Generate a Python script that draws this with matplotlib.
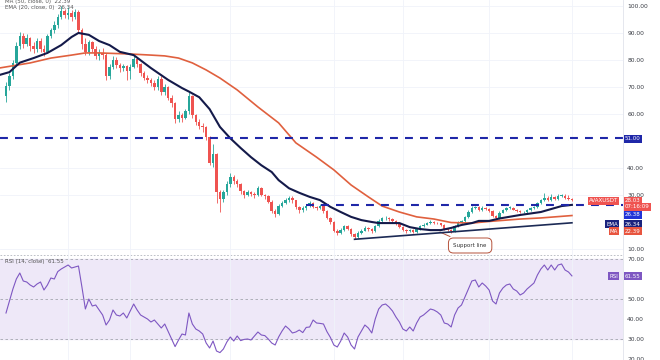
import matplotlib.pyplot as plt

plt.rcParams['font.family'] = ['DejaVu Sans']

# 日线 K 线数据
first_open = 66.5
closes = [70.5, 74, 79, 85, 89, 86, 88, 85, 84, 87, 84, 83, 89, 91, 93, 96, 98, 96.5, 97.5, 96,
          97.8, 91, 86, 83, 86.5, 84, 81.5, 82.5, 81.8, 74, 77.5, 80, 78, 77, 77.6, 76, 77.5, 80.5, 78.5, 75,
          73.5, 72.5, 71.5, 70, 73, 68, 70, 66, 64, 58, 59.5, 58.5, 61, 66.5, 59.5, 57, 55.5, 55, 51.5, 42,
          45, 31, 28.5, 31, 34, 36.7, 35, 34, 31.5, 30, 31, 30.5, 30, 32.5, 30, 29.5, 27.5, 24, 23, 26,
          27, 28, 29, 28, 25.5, 24.5, 25, 26, 27, 25.5, 25.2, 26, 24, 21.5, 20, 16.8, 16, 17, 18.5, 17.5,
          15.5, 14.5, 16, 16.8, 17.8, 17.3, 16.5, 18.5, 20.5, 21.3, 21.5, 21, 20.3, 19.2, 18.3, 17, 16.5, 17, 16.2, 17.5,
          18.5, 19, 19.5, 20, 19.8, 19.5, 19, 17.5, 17.2, 16.5, 18.5, 19.8, 20.3, 21.8, 23.7, 25.2, 25.5, 24.5, 25.3, 24.8,
          24, 22.3, 21.5, 23.5, 24.5, 25.2, 25.3, 24.6, 24.2, 23.6, 23.8, 24.4, 25, 25.6, 27, 28, 29, 28.3, 29.3, 28.5,
          29.6, 29.8, 29, 28.6, 28.03]
highs = [72, 75, 80, 86.5, 90.5, 90, 89.5, 88.5, 86.5, 88, 88, 85.5, 89.5, 92, 94.5, 97, 100, 99, 99.5, 98.5,
         99, 98.5, 92, 88, 87.5, 87, 85, 84, 84.5, 82.5, 78.5, 81.5, 81, 79, 78.5, 78, 78.5, 81.5, 81, 79,
         76, 74.5, 73.5, 72.5, 74, 74, 71, 70.5, 67, 64.5, 61, 60.5, 62, 68, 67, 60, 58, 56.5, 55.5, 52,
         49, 45.5, 32, 32, 35, 38, 37.5, 36, 34.5, 32, 32, 31.5, 31, 33.5, 33, 30.5, 30, 28, 24.8, 26.8,
         27.8, 29, 29.8, 29.5, 28.3, 26, 25.8, 26.6, 27.6, 27.3, 26, 26.5, 26.3, 24.3, 22, 20.3, 17.5, 17.6, 19, 18.9,
         17.8, 16, 16.5, 17.4, 18.5, 18.2, 17.7, 19, 21, 22, 22.3, 22, 21.5, 20.6, 19.5, 18.6, 17.4, 17.5, 17.3, 17.9,
         19, 19.5, 20, 20.6, 20.4, 20.1, 19.8, 19.3, 17.9, 17.5, 18.9, 20.2, 20.8, 22.3, 24.3, 25.8, 26.1, 25.9, 25.8, 25.6,
         25.1, 24.3, 22.6, 23.9, 24.9, 25.7, 25.8, 25.6, 24.9, 24.5, 24.2, 24.8, 25.4, 26, 27.5, 28.6, 30.7, 29.6, 30.2, 29.8,
         30.2, 30.5, 30.2, 30, 29]
lows = [64.5, 69, 73, 78, 84, 84.5, 85, 83.5, 82.5, 83, 83, 81.5, 82.5, 88, 90, 92, 95, 95.5, 95, 94.5,
        95, 90, 84, 82, 82, 83, 80.5, 80, 80.5, 72.5, 73, 76.5, 77, 75.5, 76, 72.5, 73, 77, 77.5, 74,
        72.5, 71.5, 70.5, 69, 69, 67, 67, 65, 62.5, 56.5, 57, 57, 58, 60, 58.5, 56, 54.5, 53.5, 50.5, 41,
        40.5, 27, 23.8, 27.5, 30, 33, 34, 33, 30.5, 29, 29.5, 29.5, 29, 29.5, 29.5, 28.5, 27, 23.5, 22, 22.5,
        25.5, 26.5, 27.5, 27.2, 24.8, 23.5, 23.8, 24.5, 25.5, 25, 24.6, 24.8, 23.5, 21, 19.3, 16.3, 15.2, 15.5, 16.5, 17,
        15, 13.7, 14, 15.5, 16.5, 16.8, 16, 16.3, 18.2, 20, 20.8, 20.5, 19.8, 18.8, 17.8, 16.6, 16, 16.2, 15.8, 16,
        17.2, 18.2, 18.8, 19.2, 19.4, 19.1, 18.6, 17.1, 16.8, 15.9, 16.3, 18.2, 19.5, 20, 21.5, 23.4, 24.8, 24.1, 24.1, 24.3,
        23.6, 21.9, 21, 21.2, 23.2, 24.2, 24.8, 24.3, 23.8, 23.2, 23.3, 23.5, 24.1, 24.7, 25.3, 26.6, 27.6, 27.8, 27.9, 28,
        28.2, 29.2, 28.6, 28.2, 27.8]
opens = [first_open] + closes[:-1]

# EMA(20) 与 MA(50)：按 K 线序号读取的曲线点
ema_idx = [-2, 1, 4, 8, 12, 16, 19, 21, 24, 27, 30, 33, 37, 42, 47, 51, 53, 56, 59, 62, 65, 68, 71, 74, 77, 79,
           82, 85, 88, 91, 94, 97, 100, 103, 106, 108, 111, 114, 117, 120, 123, 126, 129, 132, 135, 137, 140, 143,
           149, 155, 161, 164]
ema_val = [74.4, 75.5, 79, 80.7, 82.6, 85.5, 88.5, 90, 89.3, 87, 85.5, 83, 81.8, 77, 72.6, 69.6, 68.3, 66.2, 61.8,
           55.2, 51, 47.4, 44, 41, 38.5, 35.5, 32.5, 30.8, 29.3, 28.1, 25.6, 23.7, 21.9, 20.7, 20, 19.6, 19.6, 19.6,
           18.1, 17.4, 17, 17, 17.8, 18.9, 19.6, 20.4, 20.4, 21.3, 22.6, 23.7, 25.9, 26.34]
ma_idx = [-2, 7, 13, 19, 23, 27, 36, 42, 46, 50, 54, 58, 62, 67, 73, 79, 84, 90, 95, 100, 105, 109, 114, 119,
          124, 129, 135, 140, 149, 155, 164]
ma_val = [77, 78.9, 80.7, 81.8, 82.6, 82.6, 82.2, 81.8, 81.5, 80.7, 78.9, 76.3, 73.3, 68.9, 62.6, 56.7, 49.3, 44,
          39.3, 33.7, 29.3, 25.9, 23.7, 21.9, 21.1, 19.8, 19.6, 20.2, 21.1, 21.5, 22.39]

# RSI(14)
rsi = [43, 49, 55, 60, 63, 59, 58.5, 57, 56, 57.5, 58.5, 54.5, 57, 60.5, 60, 63.7, 65, 66, 67, 65.5,
       66, 66.5, 56, 45, 50, 46.5, 47, 44.5, 42, 37, 39.5, 44.5, 42, 41.5, 43, 40.5, 44, 47.5, 44.5, 42,
       41, 40, 38.5, 39.5, 37.5, 35.5, 37.5, 33.7, 30, 26.2, 29.5, 32.5, 32, 43, 37.5, 35, 34, 32.5, 28, 25.5,
       29, 24, 23.2, 25, 28.5, 31, 29, 31.5, 29.2, 29.8, 30, 29.5, 31.5, 33.5, 32, 31.7, 30, 28, 27, 31,
       34, 36.5, 35, 33, 33.5, 34.5, 33.2, 35.8, 36, 39.5, 38, 37.8, 37.5, 33.7, 30.8, 27, 26, 29, 33, 31,
       27, 25, 31, 34, 37, 35.5, 33, 40, 45, 47, 47.5, 46, 44, 41, 38.5, 35, 34, 36, 34, 38,
       41, 42, 43.5, 45, 44.5, 43.5, 42, 38, 37.5, 36, 42, 45.5, 47, 51, 55, 59, 59.5, 56, 58, 56.5,
       54.5, 49, 47.5, 53, 55.5, 57, 57.5, 55, 54, 52, 53, 55, 56.5, 58, 62, 65, 67, 64.5, 67, 64.5,
       67, 67.5, 64.5, 63.5, 61.55]

# 水平线、支撑线
level_51 = 51.0
level_low = 26.38
level_low_start = 87
support_idx = [101, 164]
support_val = [13.6, 19.7]

price_ticks = [10, 30, 40, 60, 70, 80, 90, 100]
rsi_ticks = [20, 30, 40, 50, 70]

up, down = '#26a69a', '#ef5350'
navy = '#1f27a8'

fig = plt.figure(figsize=(6.6, 3.6), dpi=100)
ax = fig.add_axes([0, 106 / 360, 623 / 660, 254 / 360])
rx = fig.add_axes([0, 0, 623 / 660, 106 / 360], sharex=ax)

# K 线
n = len(closes)
xs = list(range(n))
cols = [up if c >= o else down for o, c in zip(opens, closes)]
ax.vlines(xs, lows, highs, colors=cols, linewidth=0.6, zorder=3)
ax.bar(xs, [max(abs(c - o), 0.25) for o, c in zip(opens, closes)],
       bottom=[min(o, c) for o, c in zip(opens, closes)], width=0.72, color=cols, zorder=3)

ax.plot(ma_idx, ma_val, color='#e0603e', linewidth=1.2, zorder=4)
ax.plot(ema_idx, ema_val, color='#141a4a', linewidth=1.5, zorder=4)
ax.plot(support_idx, support_val, color='#1c2a55', linewidth=1.2, zorder=4)

ax.axhline(level_51, color=navy, linewidth=1.5, linestyle=(0, (3.8, 3.4)), zorder=5)
ax.plot([level_low_start, 180], [level_low, level_low], color=navy, linewidth=1.5,
        linestyle=(0, (3.8, 3.4)), zorder=5)

ax.annotate('Support line', xy=(125, 16.7), xytext=(134.5, 11.3), fontsize=4, color='#333333',
            ha='center', va='center',
            bbox=dict(boxstyle='round,pad=0.9', fc='white', ec='#b5523b', lw=0.7),
            arrowprops=dict(arrowstyle='-', color='#b5523b', lw=0.7))

ax.set_xlim(-1.74, 178.8)
ax.set_ylim(8.15, 102.2)
ax.set_yticks(price_ticks)
ax.set_yticklabels(['%.2f' % t for t in price_ticks])
ax.yaxis.tick_right()
ax.tick_params(axis='y', length=0, pad=3, labelsize=4.3, labelcolor='#3a3d45')
ax.set_xticks([18, 36, 65, 95, 115, 140, 164])
ax.tick_params(axis='x', length=0, labelbottom=False)
ax.grid(True, color='#f0f3fa', linewidth=0.6)
ax.set_axisbelow(True)
for s in ['top', 'left', 'bottom']:
    ax.spines[s].set_visible(False)
ax.spines['right'].set_color('#e0e3eb')
ax.spines['right'].set_linewidth(0.6)

# RSI 面板
rx.plot(xs, rsi, color='#7e57c2', linewidth=0.8, zorder=3)
rx.axhspan(30, 70, color='#eee8f8', zorder=0)
for lv in [70, 50, 30]:
    rx.axhline(lv, color='#a3a6af', linewidth=0.6, linestyle=(0, (3, 3)), zorder=1)
rx.axhline(72, color='#b2b5be', linewidth=0.6, linestyle=(0, (2, 2)), zorder=1)
rx.set_ylim(19.5, 72.5)
rx.set_yticks(rsi_ticks)
rx.set_yticklabels(['%.2f' % t for t in rsi_ticks])
rx.yaxis.tick_right()
rx.tick_params(axis='y', length=0, pad=3, labelsize=4.3, labelcolor='#3a3d45')
rx.tick_params(axis='x', length=0, labelbottom=False)
rx.grid(True, axis='x', color='#f0f3fa', linewidth=0.6)
for s in ['top', 'left', 'bottom']:
    rx.spines[s].set_visible(False)
rx.spines['right'].set_color('#e0e3eb')
rx.spines['right'].set_linewidth(0.6)

# 图例文字
def ftext(x, y, s, **kw):
    fig.text(x / 660, 1 - y / 360, s, **kw)

ftext(5, 1, 'MA (50, close, 0)  %.2f' % ma_val[-1], fontsize=4, color='#555555', va='center')
ftext(5, 7, 'EMA (20, close, 0)  %.2f' % ema_val[-1], fontsize=4, color='#555555', va='center')
ftext(5, 261, 'RSI (14, close)  %.2f' % rsi[-1], fontsize=4, color='#555555', va='center')

# 右侧价格标签
def tag(x, y, s, bg, ha='left'):
    ftext(x, y, s, fontsize=4, color='white', va='center', ha=ha,
          bbox=dict(boxstyle='square,pad=0.2', fc=bg, ec='none'))

tag(625, 139, '%.2f' % level_51, navy)
tag(618, 201, 'AVAXUSDT', down, ha='right')
tag(625, 201, '%.2f' % closes[-1], down)
tag(625, 207, '07:16:09', down)
tag(625, 215, '%.2f' % level_low, '#2134d8')
tag(618, 224, 'EMA', '#1a237e', ha='right')
tag(625, 224, '%.2f' % ema_val[-1], '#1a237e')
tag(618, 231, 'MA', '#e8553f', ha='right')
tag(625, 231, '%.2f' % ma_val[-1], '#e8553f')
tag(618, 276, 'RSI', '#7e57c2', ha='right')
tag(625, 276, '%.2f' % rsi[-1], '#7e57c2')

fig.savefig('out.png', dpi=100)
